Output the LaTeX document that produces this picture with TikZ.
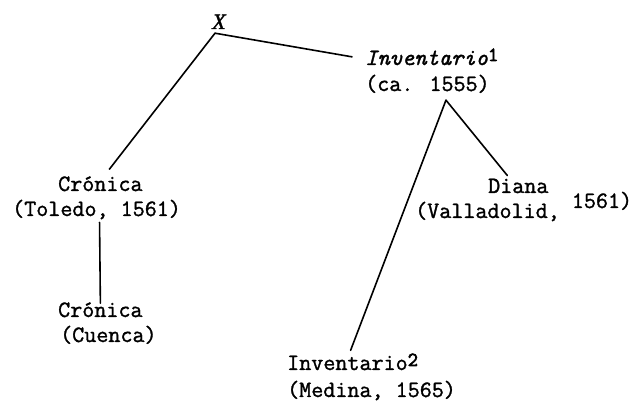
\documentclass[tikz,border=0pt]{standalone}
\usepackage{fontspec}
\newfontfamily\xserif{Liberation Serif}[FakeBold=1.5]
\newfontfamily\courfont{Latin Modern Mono}[FakeBold=1.3]
\newfontfamily\courbold{Latin Modern Mono}[FakeBold=3]
\newcommand{\supdig}[1]{\raisebox{4pt}{\courbold\fontsize{20}{20}\selectfont #1}}
\begin{document}
\begin{tikzpicture}[x=1pt,y=-1pt,
  lab/.style={font=\courfont\fontsize{23.4}{26}\selectfont, inner sep=0pt, anchor=base west},
  edge/.style={line width=1.6pt, line cap=round}]
\useasboundingbox (0,0) rectangle (641,403);
\node[inner sep=0pt, anchor=base, font=\xserif\itshape\fontsize{22}{22}\selectfont] (X) at (219,29) {X};
\node[lab] (inv1a) at (365,65) {\textit{Inventario}\supdig{1}};
\node[lab] (inv1b) at (365,91) {(ca. 1555)};
\node[lab] (crona) at (58,191) {Crónica};
\node[lab] (cronb) at (12,216) {(Toledo, 1561)};
\node[lab] (cuena) at (58,317) {Crónica};
\node[lab] (cuenb) at (60,342) {(Cuenca)};
\node[lab] (diana) at (488,193) {Diana};
\node[lab] (dianb) at (415,218) {(Valladolid, \raisebox{10pt}{1561)}};
\node[lab] (inv2a) at (287,370) {Inventario\supdig{2}};
\node[lab] (inv2b) at (287,397) {(Medina, 1565)};
\draw[edge] ([shift={(-4,4)}]X.south) -- ([xshift=-13]inv1a.west);
\draw[edge] ([shift={(-4,4)}]X.south) -- ([shift={(9,-7)}]crona.north);
\draw[edge] ([shift={(3,3)}]cronb.south) -- ([yshift=-1]cuena.north);
\draw[edge] ([shift={(18.5,7)}]inv1b.south) -- ([shift={(-2,-3)}]inv2a.north);
\draw[edge] ([shift={(18.5,7)}]inv1b.south) -- ([shift={(-11,-3)}]diana.north);
\end{tikzpicture}
\end{document}
